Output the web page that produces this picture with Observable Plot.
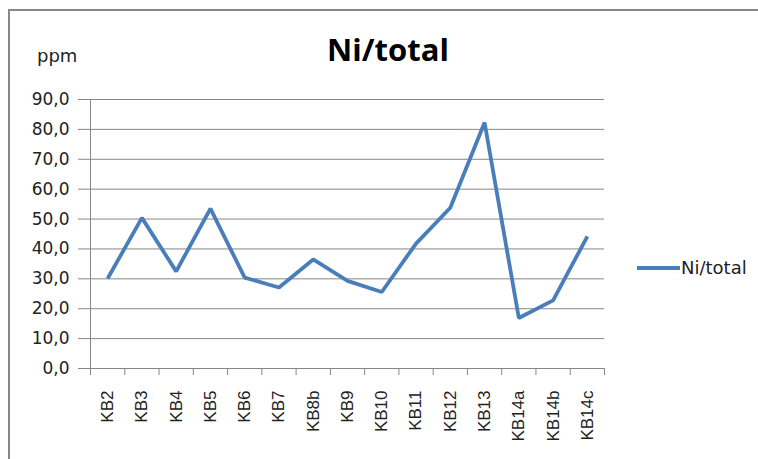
<!DOCTYPE html>
<html>
<head>
<meta charset="utf-8">
<script src="https://cdn.jsdelivr.net/npm/d3@7"></script>
<script src="https://cdn.jsdelivr.net/npm/@observablehq/plot@0.6"></script>
<style>
  html, body { margin: 0; padding: 0; background: #fff; }
  #wrap { position: relative; width: 758px; height: 459px; overflow: hidden; background: #fff; }
  #frame { position: absolute; left: 8px; top: 9px; width: 760px; height: 470px; border-left: 2px solid #878787; border-top: 2px solid #878787; box-sizing: border-box; }
  #title { position: absolute; left: 0; width: 776px; top: 28px; text-align: center; font-family: "Open Sans", sans-serif; font-weight: bold; font-size: 31px; color: #000; }
  #ppm { position: absolute; left: 37px; top: 45px; font-family: "DejaVu Sans", sans-serif; font-size: 18px; color: #222; }
  #legend { position: absolute; left: 637px; top: 257px; font-family: "DejaVu Sans", sans-serif; font-size: 18px; color: #222; display: flex; align-items: center; }
  #legend .sw { width: 43px; height: 0; border-top: 4px solid #4A7EBB; margin-right: 1px; }
  #chart { position: absolute; left: 0; top: 0; }
</style>
</head>
<body>
<div id="wrap">
  <div id="frame"></div>
  <div id="title">Ni/total</div>
  <div id="ppm">ppm</div>
  <div id="legend"><div class="sw"></div><span>Ni/total</span></div>
  <div id="chart"></div>
</div>
<script>
const categories = ["KB2","KB3","KB4","KB5","KB6","KB7","KB8b","KB9","KB10","KB11","KB12","KB13","KB14a","KB14b","KB14c"];
const values = [30.1, 50.4, 32.5, 53.5, 30.4, 27.1, 36.5, 29.3, 25.6, 41.8, 53.8, 82.3, 16.9, 22.8, 44.2];
const yTicks = [0, 10, 20, 30, 40, 50, 60, 70, 80, 90];

const data = categories.map((c, i) => ({cat: c, pos: i + 0.5, value: values[i]}));
const boundaries = d3.range(categories.length + 1);
const fmt = v => v.toFixed(1).replace(".", ",");

const chart = Plot.plot({
  width: 758,
  height: 459,
  marginLeft: 90,
  marginRight: 154,
  marginTop: 99,
  marginBottom: 91,
  style: {background: "transparent", overflow: "visible"},
  x: {domain: [0, categories.length], axis: null},
  y: {domain: [0, 90], axis: null},
  marks: [
    Plot.ruleY(yTicks, {stroke: "#878787", strokeWidth: 1, strokeOpacity: 1}),
    Plot.ruleX([0], {stroke: "#878787", strokeWidth: 1}),
    Plot.axisY({ticks: yTicks, tickFormat: fmt, tickSize: 12, tickPadding: 9, stroke: "#878787", strokeOpacity: 1,
      fontSize: 17, fontFamily: "DejaVu Sans", fill: "#222", label: null}),
    Plot.axisX({ticks: boundaries, tickFormat: () => "", tickSize: 7, stroke: "#878787", strokeOpacity: 1, label: null}),
    Plot.axisX({ticks: data.map(d => d.pos), tickFormat: (d, i) => categories[i], tickSize: 0, tickPadding: 22,
      tickRotate: -90, fontSize: 17, fontFamily: "Liberation Sans", fill: "#222", label: null}),
    Plot.line(data, {x: "pos", y: "value", stroke: "#4A7EBB", strokeWidth: 3.8, strokeLinejoin: "miter", strokeLinecap: "butt"})
  ]
});
document.getElementById("chart").appendChild(chart);
</script>
</body>
</html>
